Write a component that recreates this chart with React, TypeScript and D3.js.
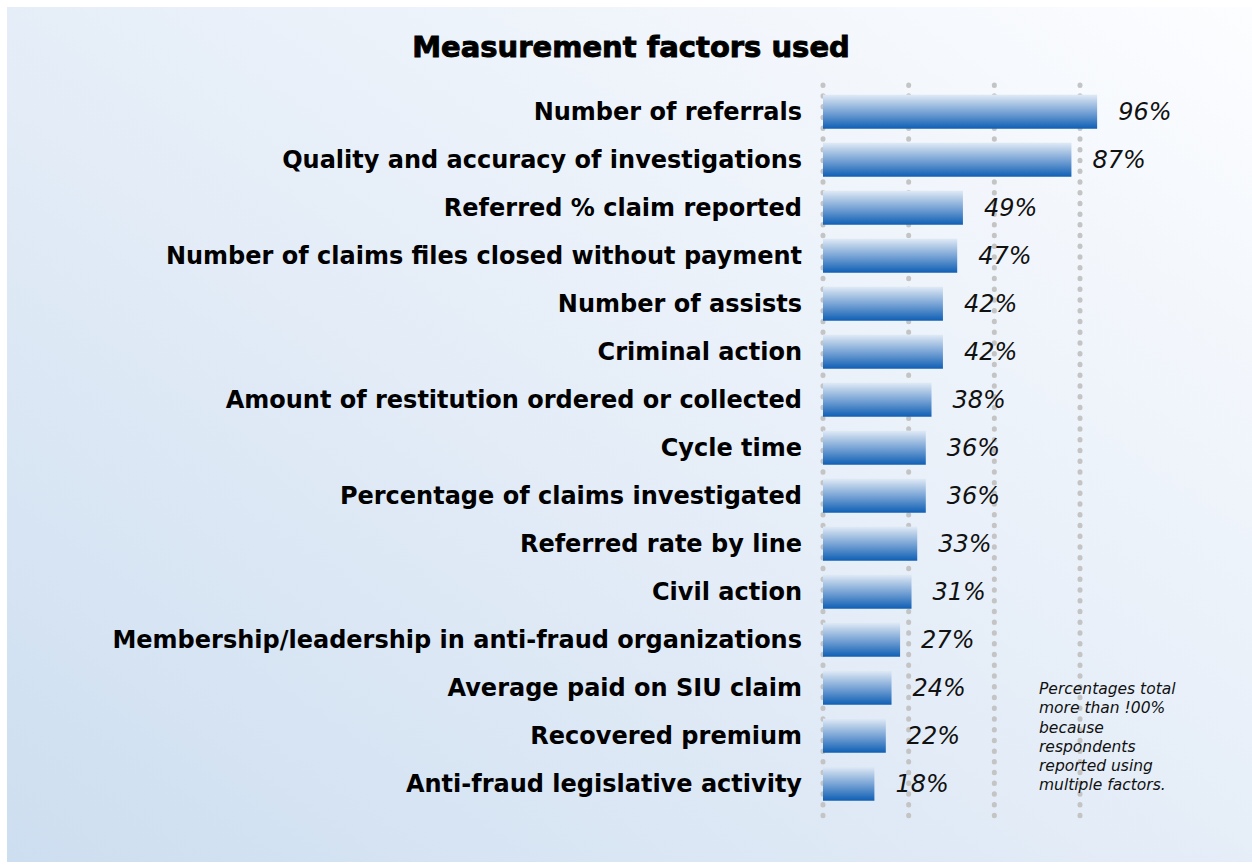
import React from "react";
import * as d3 from "d3";

const categories = [
  "Number of referrals",
  "Quality and accuracy of investigations",
  "Referred % claim reported",
  "Number of claims files closed without payment",
  "Number of assists",
  "Criminal action",
  "Amount of restitution ordered or collected",
  "Cycle time",
  "Percentage of claims investigated",
  "Referred rate by line",
  "Civil action",
  "Membership/leadership in anti-fraud organizations",
  "Average paid on SIU claim",
  "Recovered premium",
  "Anti-fraud legislative activity",
];
const values = [96, 87, 49, 47, 42, 42, 38, 36, 36, 33, 31, 27, 24, 22, 18];
const gridTicks = [0, 30, 60, 90];
const noteLines = [
  "Percentages total",
  "more than !00%",
  "because",
  "respondents",
  "reported using",
  "multiple factors.",
];
const title = "Measurement factors used";

const W = 1252;
const H = 867;

export default function App() {
  const x = d3.scaleLinear().domain([0, 90]).range([823, 1080]);
  const y = d3
    .scaleBand()
    .domain(categories)
    .range([87.7, 807.7])
    .paddingInner(0.29)
    .paddingOuter(0.145);

  const font = "'DejaVu Sans', Verdana, sans-serif";

  return (
    <svg
      width={W}
      height={H}
      viewBox={`0 0 ${W} ${H}`}
      style={{ position: "absolute", left: 0, top: 0, display: "block" }}
    >
      <defs>
        <linearGradient id="bg" x1="0" y1="1" x2="1" y2="0">
          <stop offset="0%" stopColor="#cddef0" />
          <stop offset="45%" stopColor="#e3ecf7" />
          <stop offset="100%" stopColor="#fcfdff" />
        </linearGradient>
        <linearGradient id="bar" x1="0" y1="0" x2="0" y2="1">
          <stop offset="0%" stopColor="#e0eaf5" />
          <stop offset="50%" stopColor="#7aa5d6" />
          <stop offset="100%" stopColor="#0f5fb4" />
        </linearGradient>
      </defs>
      <rect x={0} y={0} width={W} height={H} fill="#ffffff" />
      <rect x={7} y={7} width={W - 7} height={855} fill="url(#bg)" />

      <text
        x={631}
        y={57}
        textAnchor="middle"
        fontFamily={font}
        fontWeight="bold"
        fontSize={29}
        fill="#000"
        stroke="#000"
        strokeWidth={0.9}
      >
        {title}
      </text>

      {/* dotted grid */}
      {gridTicks.map((t) => (
        <line
          key={t}
          x1={x(t)}
          x2={x(t)}
          y1={85}
          y2={826}
          stroke="#c4c4c4"
          strokeWidth={5}
          strokeLinecap="round"
          strokeDasharray="0.5 10.24"
        />
      ))}

      {categories.map((c, i) => {
        const yc = y(c)! + y.bandwidth() / 2;
        return (
          <g key={c}>
            <rect
              x={x(0)}
              y={y(c)}
              width={x(values[i]) - x(0)}
              height={y.bandwidth()}
              fill="url(#bar)"
            />
            <text
              x={802}
              y={yc}
              dy="0.33em"
              textAnchor="end"
              fontFamily={font}
              fontWeight="bold"
              fontSize={24}
              fill="#000"
            >
              {c}
            </text>
            <text
              x={x(values[i]) + 21}
              y={yc}
              dy="0.34em"
              fontFamily={font}
              fontStyle="italic"
              fontSize={24}
              fill="#111"
            >
              {values[i]}%
            </text>
          </g>
        );
      })}

      <text fontFamily={font} fontStyle="italic" fontSize={15.5} fill="#111">
        {noteLines.map((l, i) => (
          <tspan key={i} x={1039} y={694.3 + i * 19.1}>
            {l}
          </tspan>
        ))}
      </text>
    </svg>
  );
}
